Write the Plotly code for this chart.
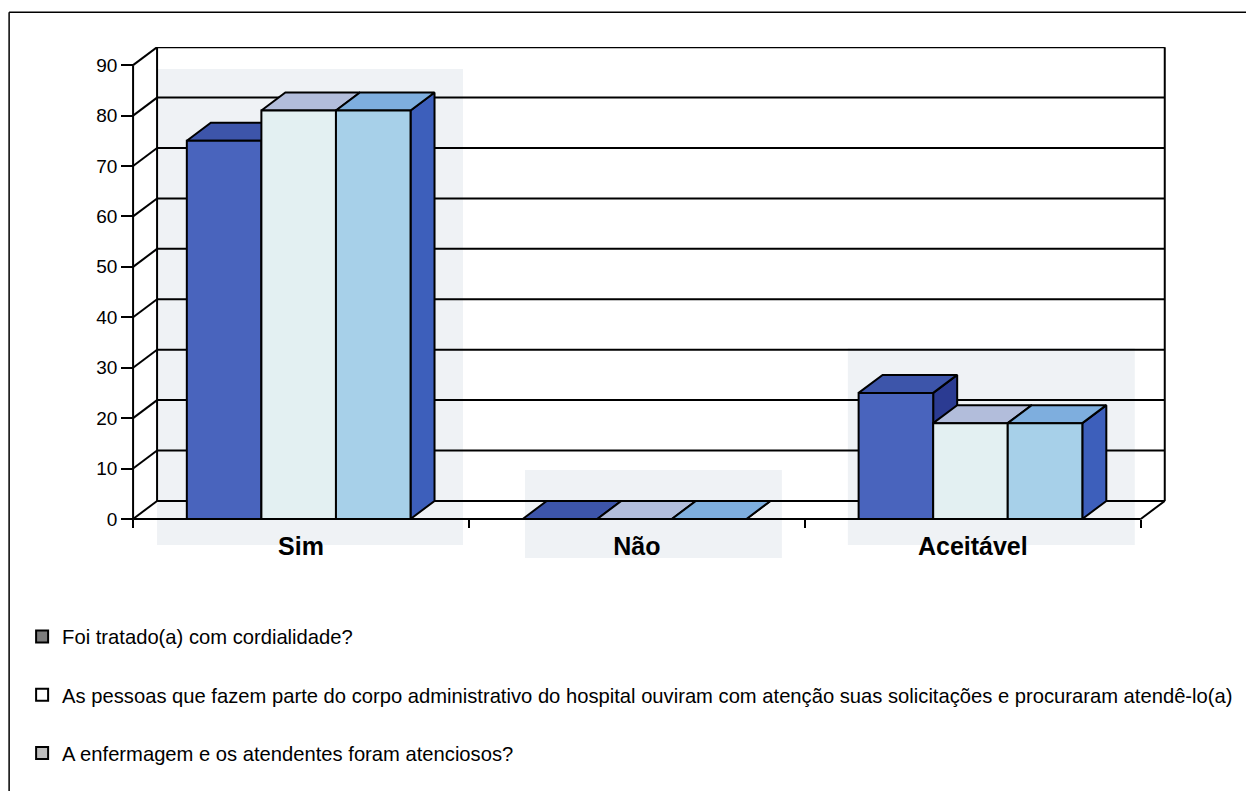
import plotly.graph_objects as go

# ---------------- data ----------------
categories = ["Sim", "Não", "Aceitável"]
series_names = [
    "Foi tratado(a) com cordialidade?",
    "As pessoas que fazem parte do corpo administrativo do hospital ouviram com atenção suas solicitações e procuraram atendê-lo(a)",
    "A enfermagem e os atendentes foram atenciosos?",
]
cordialidade = [75, 0, 25]
administrativo = [81, 0, 19]
enfermagem = [81, 0, 19]
y_ticks = [0, 10, 20, 30, 40, 50, 60, 70, 80, 90]

# ---------------- styles ----------------
FONT = "Liberation Sans, Arial, sans-serif"
front_colors = ["#4964bd", "#e3f0f2", "#a7d0e9"]
top_colors = ["#3d55aa", "#b2bddb", "#7eaede"]
side_colors = ["#2b3b92", "#9aaad3", "#3d5fbb"]
legend_colors = ["#7c7c7c", "#ffffff", "#bdbdbd"]

BAR_W = 0.222       # bar width (category units)
GROUP_START = 0.16  # first bar left edge inside category
DX = 24 / 336       # depth offset x (category units)
DY = 18 / 5.044     # depth offset y (value units)
YMAX = 90

# pixel layout helpers
W, H = 1246, 791
X_RANGE = [-0.03, 3.09]
Y_RANGE = [-1.0, 93.6]
PX_PER_X = 336.0
PX_PER_Y = 5.044
left_px = 133 - (0 - X_RANGE[0]) * PX_PER_X
plot_w = (X_RANGE[1] - X_RANGE[0]) * PX_PER_X
bottom_px = 519 + (0 - Y_RANGE[0]) * PX_PER_Y
plot_h = (Y_RANGE[1] - Y_RANGE[0]) * PX_PER_Y
m_l = left_px
m_r = W - left_px - plot_w
m_b = H - bottom_px
m_t = bottom_px - plot_h


def px_to_paper_x(px):
    return (px - left_px) / plot_w


def px_to_paper_y(py):
    return (bottom_px - py) / plot_h


all_series = [cordialidade, administrativo, enfermagem]
ncat = len(categories)
xc = [i + 0.5 for i in range(ncat)]

fig = go.Figure()

for k, vals in enumerate(all_series):
    sx, sy, tx, ty = [], [], [], []
    for i, v in enumerate(vals):
        x0 = i + GROUP_START + k * BAR_W
        x1 = x0 + BAR_W
        # side face
        sx += [x1, x1 + DX, x1 + DX, x1, x1, None]
        sy += [0, DY, v + DY, v, 0, None]
        # top face
        tx += [x0, x1, x1 + DX, x0 + DX, x0, None]
        ty += [v, v, v + DY, v + DY, v, None]
    fig.add_trace(go.Scatter(x=sx, y=sy, mode="lines", fill="toself",
                             fillcolor=side_colors[k],
                             line=dict(color="black", width=2),
                             hoverinfo="skip", showlegend=False, zorder=3 * k))
    fig.add_trace(go.Scatter(x=tx, y=ty, mode="lines", fill="toself",
                             fillcolor=top_colors[k],
                             line=dict(color="black", width=2),
                             hoverinfo="skip", showlegend=False, zorder=3 * k + 1))
    fig.add_trace(go.Bar(x=xc, y=vals, base=0, width=BAR_W,
                         offset=GROUP_START - 0.5 + k * BAR_W,
                         marker=dict(color=front_colors[k],
                                     line=dict(color="black", width=2)),
                         name=series_names[k], showlegend=False,
                         zorder=3 * k + 2))

# legend entries (grey swatches as in the printed legend)
for k, name in enumerate(series_names):
    fig.add_trace(go.Scatter(x=[None], y=[None], mode="markers", name=name,
                             legendgroup=f"g{k}",
                             marker=dict(symbol="square", size=12,
                                         color=legend_colors[k],
                                         line=dict(color="black", width=2))))

# ---------------- 3D frame (walls, grid) ----------------
shapes = []

# light scanning patches behind the chart groups (pixel boxes)
patch_boxes = [(157, 69, 463, 545), (525, 470, 782, 558), (848, 348, 1135, 545)]
for (a, b, c, d) in patch_boxes:
    shapes.append(dict(type="rect", xref="paper", yref="paper",
                       x0=px_to_paper_x(a), x1=px_to_paper_x(c),
                       y0=px_to_paper_y(d), y1=px_to_paper_y(b),
                       fillcolor="#eff2f5", line=dict(width=0), layer="below"))

line_style = dict(color="black", width=2)
xmax = ncat
for v in y_ticks:
    shapes.append(dict(type="line", xref="x", yref="y", x0=DX, y0=v + DY,
                       x1=xmax + DX, y1=v + DY, line=line_style, layer="below"))
    shapes.append(dict(type="line", xref="x", yref="y", x0=0, y0=v,
                       x1=DX, y1=v + DY, line=line_style, layer="below"))
shapes += [
    dict(type="line", xref="x", yref="y", x0=DX, y0=DY, x1=DX, y1=YMAX + DY,
         line=line_style, layer="below"),
    dict(type="line", xref="x", yref="y", x0=xmax + DX, y0=DY, x1=xmax + DX,
         y1=YMAX + DY, line=line_style, layer="below"),
    dict(type="line", xref="x", yref="y", x0=0, y0=0, x1=0, y1=YMAX,
         line=line_style, layer="below"),
    dict(type="line", xref="x", yref="y", x0=0, y0=0, x1=xmax, y1=0,
         line=line_style, layer="below"),
    dict(type="line", xref="x", yref="y", x0=xmax, y0=0, x1=xmax + DX, y1=DY,
         line=line_style, layer="below"),
]
# the scanned category labels are cut off at the bottom
shapes.append(dict(type="rect", xref="paper", yref="paper",
                   x0=px_to_paper_x(200), x1=px_to_paper_x(1100),
                   y0=px_to_paper_y(580), y1=px_to_paper_y(558),
                   fillcolor="white", line=dict(width=0), layer="above"))
# outer page border (top and left)
shapes += [
    dict(type="line", xref="paper", yref="paper",
         x0=px_to_paper_x(9), y0=px_to_paper_y(12),
         x1=px_to_paper_x(W + 20), y1=px_to_paper_y(12),
         line=dict(color="black", width=1.5)),
    dict(type="line", xref="paper", yref="paper",
         x0=px_to_paper_x(9), y0=px_to_paper_y(12),
         x1=px_to_paper_x(9), y1=px_to_paper_y(H + 20),
         line=dict(color="black", width=1.5)),
]

fig.update_layout(
    width=W, height=H,
    margin=dict(l=m_l, r=m_r, t=m_t, b=m_b, pad=0),
    paper_bgcolor="white", plot_bgcolor="rgba(0,0,0,0)",
    barmode="overlay",
    font=dict(family=FONT, color="black", size=18),
    shapes=shapes,
    showlegend=True,
    legend=dict(x=px_to_paper_x(22), y=px_to_paper_y(617),
                xanchor="left", yanchor="top",
                font=dict(family=FONT, size=20.2, color="black"),
                tracegroupgap=29, bgcolor="rgba(0,0,0,0)"),
    xaxis=dict(range=X_RANGE, tickmode="array", tickvals=xc,
               ticktext=[f"<b>{c}</b>" for c in categories],
               tickfont=dict(size=25, family=FONT, color="black"),
               ticks="", ticklabelstandoff=10,
               showgrid=False, zeroline=False, showline=False,
               anchor="free", position=(0 - Y_RANGE[0]) / (Y_RANGE[1] - Y_RANGE[0]),
               minor=dict(tick0=0, dtick=1, ticks="outside", ticklen=8,
                          tickwidth=2, tickcolor="black", showgrid=False),
               fixedrange=True),
    yaxis=dict(range=Y_RANGE, tickmode="array", tickvals=y_ticks,
               ticks="outside", ticklen=12, tickwidth=2, tickcolor="black",
               tickfont=dict(size=19, family=FONT, color="black"),
               showgrid=False, zeroline=False, showline=False,
               anchor="free", position=(0 - X_RANGE[0]) / (X_RANGE[1] - X_RANGE[0]),
               fixedrange=True),
)

fig.write_html("out.html")
